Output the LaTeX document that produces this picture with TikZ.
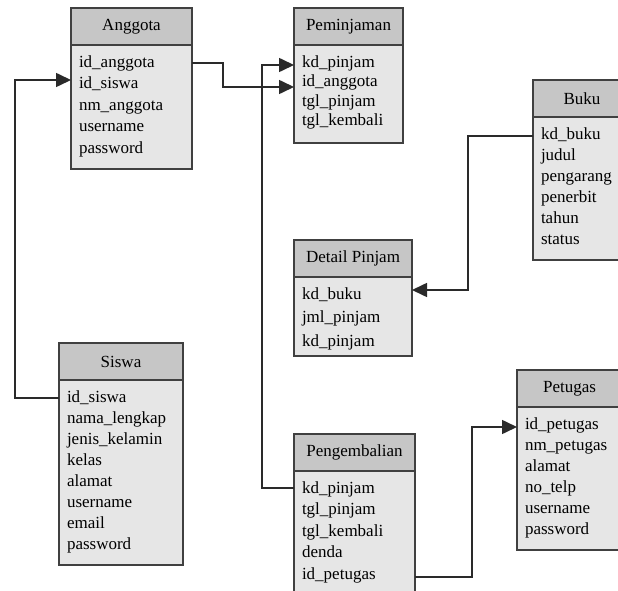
\documentclass[tikz,border=0pt]{standalone}
\usepackage{fontspec}
\setmainfont{Liberation Serif}
\usepackage{xcolor}
\usetikzlibrary{
arrows.meta,
positioning
}
\definecolor{boxline}{HTML}{404040}
\definecolor{headfill}{HTML}{C6C6C6}
\definecolor{bodyfill}{HTML}{E6E6E6}
\definecolor{linkline}{HTML}{2A2A2A}

\begin{document}
\begin{tikzpicture}[
    x=1pt, y=-1pt,
    >={Triangle[length=15pt,width=14pt]},
    head/.style={draw=boxline, fill=headfill,
      line width=1.6pt,
      anchor=north west,
      outer sep=0pt,
      inner sep=0pt,
      minimum height=37pt,
      minimum width=#1,
      font=\fontsize{17}{21}\selectfont},
    body/.style={draw=boxline, fill=bodyfill,
      line width=1.6pt,
      anchor=north west,
      outer sep=0pt,
      inner xsep=8pt,
      inner ysep=6pt,
      align=left,
      text height=16.4pt,
      text width=#1,
      font=\fontsize{17}{21}\selectfont},
    link/.style={->, draw=linkline, line width=1.6pt}
  ]
  \useasboundingbox (0,0) rectangle (618,591);
  \clip (0,0) rectangle (618,591);

  % Anggota
  \node[head=121pt] (Ah) at (71,8) {Anggota};
  \node[body=105pt, text depth=95.5pt, font=\fontsize{17}{21.5}\selectfont] (Ab) at (Ah.south west) {%
    id\_anggota\\
    id\_siswa\\
    nm\_anggota\\
    username\\
    password};

  % Peminjaman
  \node[head=109pt] (Ph) at (294,8) {Peminjaman};
  \node[body=93pt, text depth=69.5pt, font=\fontsize{17}{19.5}\selectfont] (Pb) at (Ph.south west) {%
    kd\_pinjam\\
    id\_anggota\\
    tgl\_pinjam\\
    tgl\_kembali};

  % Buku
  \node[head=98pt] (Bh) at (533,80) {Buku};
  \node[body=82pt, text depth=114.5pt] (Bb) at (Bh.south west) {%
    kd\_buku\\
    judul\\
    pengarang\\
    penerbit\\
    tahun\\
    status};

  % Detail Pinjam
  \node[head=118pt] (Dh) at (294,240) {Detail Pinjam};
  \node[body=102pt, text depth=50.5pt, font=\fontsize{17}{23.5}\selectfont] (Db) at (Dh.south west) {%
    kd\_buku\\
    jml\_pinjam\\
    kd\_pinjam};

  % Siswa
  \node[head=124pt] (Sh) at (59,343) {Siswa};
  \node[body=108pt, text depth=156.5pt] (Sb) at (Sh.south west) {%
    id\_siswa\\
    nama\_lengkap\\
    jenis\_kelamin\\
    kelas\\
    alamat\\
    username\\
    email\\
    password};

  % Pengembalian
  \node[head=121pt] (Gh) at (294,434) {Pengembalian};
  \node[body=105pt, text depth=97.5pt, font=\fontsize{17}{21.5}\selectfont] (Gb) at (Gh.south west) {%
    kd\_pinjam\\
    tgl\_pinjam\\
    tgl\_kembali\\
    denda\\
    id\_petugas};

  % Petugas
  \node[head=105pt] (Th) at (517,370) {Petugas};
  \node[body=89pt, text depth=114.5pt] (Tb) at (Th.south west) {%
    id\_petugas\\
    nm\_petugas\\
    alamat\\
    no\_telp\\
    username\\
    password};

  % relations
  \draw[link] ([yshift=-18pt]Sb.north west) -- ++(-44,0) |- ([yshift=-35pt]Ab.north west);
  \draw[link] ([yshift=-18pt]Ab.north east) -- ++(31,0) |- ([yshift=-42pt]Pb.north west);
  \draw[link] ([yshift=-17pt]Gb.north west) -- ++(-32,0) |- ([yshift=-20pt]Pb.north west);
  \draw[link] ([yshift=-19pt]Bb.north west) -- ++(-65,0) |- ([yshift=-13pt]Db.north east);
  \draw[link] ([yshift=-106pt]Gb.north east) -- ++(57,0) |- ([yshift=-20pt]Tb.north west);
\end{tikzpicture}
\end{document}
